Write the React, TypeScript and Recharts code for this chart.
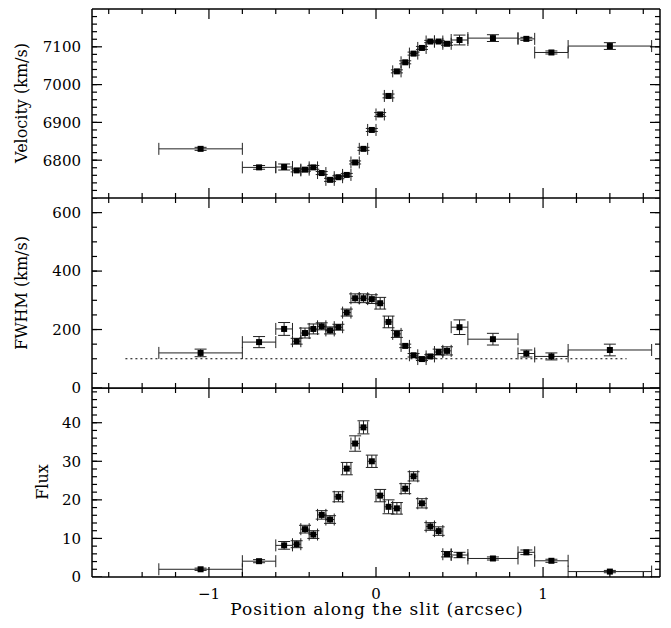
import React from 'react';
import { ScatterChart, Scatter, XAxis, YAxis, ErrorBar, ReferenceLine } from 'recharts';

// slit positions (arcsec) and half-widths of each extraction bin
const positions = [
  -1.05, -0.7, -0.55, -0.475, -0.425, -0.375, -0.325, -0.275, -0.225, -0.175, -0.125, -0.075, -0.025,
  0.025, 0.075, 0.125, 0.175, 0.225, 0.275, 0.325, 0.375, 0.425, 0.5, 0.7, 0.9, 1.05, 1.4,
];
const binHalf = [
  0.25, 0.1, 0.05, 0.025, 0.025, 0.025, 0.025, 0.025, 0.025, 0.025, 0.025, 0.025, 0.025,
  0.025, 0.025, 0.025, 0.025, 0.025, 0.025, 0.025, 0.025, 0.025, 0.05, 0.15, 0.05, 0.1, 0.25,
];

const velocity = [
  6830, 6781, 6782, 6773, 6775, 6781, 6766, 6748, 6755, 6761, 6794, 6830, 6880,
  6921, 6970, 7035, 7059, 7082, 7097, 7114, 7114, 7108, 7118, 7123, 7121, 7085, 7102,
];
const velocityErr = [4, 5, 8, 4, 4, 5, 4, 4, 4, 4, 4, 4, 4, 5, 5, 4, 4, 4, 4, 3, 3, 4, 13, 9, 4, 4, 9];

const fwhm = [
  120, 157, 202, 160, 188, 202, 211, 197, 208, 258, 307, 307, 304,
  290, 226, 185, 144, 112, 99, 108, 123, 127, 208, 167, 118, 108, 130,
];
const fwhmErr = [13, 19, 22, 10, 17, 17, 12, 12, 10, 12, 15, 15, 15, 20, 20, 12, 6, 6, 5, 6, 10, 14, 25, 20, 12, 12, 20];
const fwhmInstrumental = 100;

const flux = [
  2.0, 4.1, 8.2, 8.5, 12.4, 11.0, 16.1, 14.9, 20.8, 28.1, 34.6, 38.8, 30.0,
  21.1, 18.2, 17.8, 22.9, 26.1, 19.1, 13.1, 11.9, 5.9, 5.7, 4.8, 6.4, 4.2, 1.4,
];
const fluxErr = [
  0.3, 0.4, 1.0, 0.9, 1.0, 1.0, 1.1, 1.0, 1.3, 1.6, 2.0, 1.7, 1.6,
  1.6, 1.8, 1.5, 1.3, 1.2, 1.2, 1.0, 1.1, 0.7, 0.7, 0.4, 0.6, 0.4, 0.3,
];

const X_DOMAIN: [number, number] = [-1.7, 1.7];
const X_MAJOR = [-1, 0, 1];
const X_MINOR = [-1.6, -1.4, -1.2, -0.8, -0.6, -0.4, -0.2, 0.2, 0.4, 0.6, 0.8, 1.2, 1.4, 1.6];

const range = (a: number, b: number, step: number) => {
  const out: number[] = [];
  for (let v = a; v <= b + 1e-9; v += step) out.push(Math.round(v * 1000) / 1000);
  return out;
};

const FONT = 'DejaVu Serif';
const tickFont = { fontFamily: FONT, fontSize: 15, fill: '#000' };
const frame = { stroke: '#000', strokeWidth: 1.5 };
const THIN = 0.01; // recharts skips axes of size 0
const MAJOR_LEN = 10;
const MINOR_LEN = 5;

const fmt = (v: number) => (v < 0 ? `\u2212${Math.abs(v)}` : String(v));

const Square = (p: any) => <rect x={p.cx - 3} y={p.cy - 3} width={6} height={6} fill="#000" />;

// a tick mark drawn as a thin filled bar from the frame point towards the inside of the box
const TickMark = (p: any) => {
  const src = p.payload && p.payload.len !== undefined ? p.payload : p;
  const { dx, dy, len } = src;
  const t = 1.2;
  if (dx !== 0) {
    const x = dx > 0 ? p.cx : p.cx - len;
    return <rect x={x} y={p.cy - t / 2} width={len} height={t} fill="#000" />;
  }
  const y = dy > 0 ? p.cy : p.cy - len;
  return <rect x={p.cx - t / 2} y={y} width={t} height={len} fill="#000" />;
};

const tickPoints = (yDomain: [number, number], yMajor: number[], yMinor: number[]) => {
  const [x0, x1] = X_DOMAIN;
  const [y0, y1] = yDomain;
  const pts: { x: number; y: number; dx: number; dy: number; len: number }[] = [];
  const xs: [number, number][] = [...X_MAJOR.map((v): [number, number] => [v, MAJOR_LEN]), ...X_MINOR.map((v): [number, number] => [v, MINOR_LEN])];
  xs.forEach(([x, len]) => {
    pts.push({ x, y: y0, dx: 0, dy: -1, len }, { x, y: y1, dx: 0, dy: 1, len });
  });
  const ys: [number, number][] = [...yMajor.map((v): [number, number] => [v, MAJOR_LEN]), ...yMinor.map((v): [number, number] => [v, MINOR_LEN])];
  ys.forEach(([y, len]) => {
    pts.push({ x: x0, y, dx: 1, dy: 0, len }, { x: x1, y, dx: -1, dy: 0, len });
  });
  return pts;
};

interface PanelProps {
  values: number[];
  errors: number[];
  yDomain: [number, number];
  yMajor: number[];
  yMinor: number[];
  height: number;
  top: number;
  mTop: number;
  mBottom: number;
  showX?: boolean;
  refY?: number;
}

const Panel: React.FC<PanelProps> = ({ values, errors, yDomain, yMajor, yMinor, height, top, mTop, mBottom, showX, refY }) => {
  const data = positions.map((x, i) => ({ x, xe: binHalf[i], y: values[i], ye: errors[i] }));
  const ticks = tickPoints(yDomain, yMajor, yMinor);
  return (
    <div style={{ position: 'absolute', left: 0, top }}>
      <ScatterChart width={660} height={height} margin={{ top: mTop, right: 8, bottom: mBottom, left: 84 }}>
        <XAxis xAxisId="b" type="number" dataKey="x" domain={X_DOMAIN} allowDataOverflow ticks={X_MAJOR}
          interval={0} height={THIN} tickSize={0} tickMargin={11} axisLine={frame} tickLine={false}
          tick={showX ? tickFont : false} tickFormatter={fmt} />
        <XAxis xAxisId="t" orientation="top" type="number" domain={X_DOMAIN} allowDataOverflow ticks={X_MAJOR}
          interval={0} height={THIN} tickSize={0} axisLine={frame} tickLine={false} tick={false} />
        <YAxis yAxisId="l" type="number" dataKey="y" domain={yDomain} allowDataOverflow ticks={yMajor}
          interval={0} width={THIN} tickSize={0} tickMargin={11} axisLine={frame} tickLine={false} tick={tickFont} />
        <YAxis yAxisId="r" orientation="right" type="number" domain={yDomain} allowDataOverflow ticks={yMajor}
          interval={0} width={THIN} tickSize={0} axisLine={frame} tickLine={false} tick={false} />
        {refY !== undefined && (
          <ReferenceLine xAxisId="b" yAxisId="l" segment={[{ x: -1.5, y: refY }, { x: 1.5, y: refY }]}
            stroke="#000" strokeWidth={1} strokeDasharray="2 3" />
        )}
        <Scatter xAxisId="b" yAxisId="l" data={ticks} shape={TickMark} isAnimationActive={false} legendType="none" />
        <Scatter xAxisId="b" yAxisId="l" data={data} shape={Square} isAnimationActive={false}>
          <ErrorBar dataKey="xe" direction="x" width={6} stroke="#222" strokeWidth={1} isAnimationActive={false} />
          <ErrorBar dataKey="ye" direction="y" width={6} stroke="#222" strokeWidth={1} isAnimationActive={false} />
        </Scatter>
      </ScatterChart>
    </div>
  );
};

const titleBase: React.CSSProperties = {
  position: 'absolute', whiteSpace: 'nowrap', fontFamily: FONT, fontSize: 16, lineHeight: 1, color: '#000',
};
const yTitle = (cx: number, cy: number): React.CSSProperties => ({
  ...titleBase, left: cx - 8, top: cy - 8, transform: 'translate(-50%, -50%) rotate(-90deg)',
});

export default function App() {
  return (
    <div style={{ position: 'relative', width: 663, height: 612 }}>
      <Panel values={velocity} errors={velocityErr} yDomain={[6700, 7200]} yMajor={[6800, 6900, 7000, 7100]}
        yMinor={range(6720, 7180, 20)} height={190} top={0} mTop={1} mBottom={0} />
      <Panel values={fwhm} errors={fwhmErr} yDomain={[0, 650]} yMajor={[0, 200, 400, 600]}
        yMinor={range(50, 650, 50)} height={200} top={190} mTop={0} mBottom={10} refY={fwhmInstrumental} />
      <Panel values={flux} errors={fluxErr} yDomain={[0, 49]} yMajor={[0, 10, 20, 30, 40]}
        yMinor={range(2, 48, 2)} height={232} top={380} mTop={0} mBottom={43} showX />
      <div style={yTitle(22, 103)}>Velocity (km/s)</div>
      <div style={yTitle(22, 293)}>FWHM (km/s)</div>
      <div style={yTitle(43, 482)}>Flux</div>
      <div style={{ ...titleBase, fontSize: 17, left: 377 - 8, top: 609 - 8, transform: 'translate(-50%, -50%)',
        letterSpacing: 1 }}>
        Position along the slit (arcsec)
      </div>
    </div>
  );
}
